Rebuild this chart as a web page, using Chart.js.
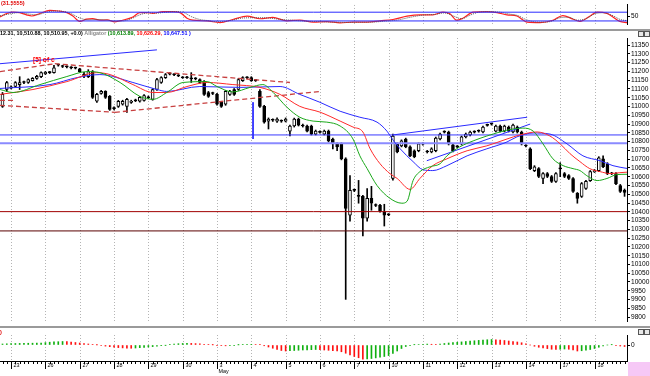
<!DOCTYPE html>
<html><head><meta charset="utf-8">
<script src="https://cdn.jsdelivr.net/npm/chart.js@4.4.1/dist/chart.umd.min.js"></script>
<style>
html,body{margin:0;padding:0;background:#fff;width:650px;height:376px;overflow:hidden;}
.p{position:absolute;left:0;width:650px;}
canvas{display:block;}
.sep{position:absolute;left:0;width:650px;height:2px;background:#9a9a9a;}
.pink{position:absolute;left:628px;top:362px;width:22px;height:14px;background:#f6c8f6;}
.ic{position:absolute;width:4px;height:4px;border:1px solid #555;background:#e8e8e8;}
</style></head><body>
<div class="p" style="top:0;height:29px"><canvas id="c1" width="650" height="29"></canvas></div>
<div class="sep" style="top:29px"></div>
<div class="p" style="top:30px;height:296px"><canvas id="c2" width="650" height="296"></canvas></div>
<div class="sep" style="top:326px"></div>
<div class="p" style="top:326px;height:50px"><canvas id="c3" width="650" height="50"></canvas></div>
<div class="pink"></div>
<div class="ic" style="left:638px;top:31px"></div><div class="ic" style="left:644px;top:31px"></div>
<div class="ic" style="left:638px;top:329px"></div><div class="ic" style="left:644px;top:329px"></div>
<script>
// ---------- DATA ----------
const dayLabels = ['23','26','27','28','29','30','3','4','5','6','7','10','11','12','13','14','17','18'];
const priceTicks = [9800,9850,9900,9950,10000,10050,10100,10150,10200,10250,10300,10350,10400,10450,10500,10550,10600,10650,10700,10750,10800,10850,10900,10950,11000,11050,11100,11150,11200,11250,11300,11350];

const open  = [11001,11097,11105,11115,11125,11137,11137,11148,11160,11170,11187,11193,11193,11236,11228,11226,11220,11219,11215,11185,11170,11199,11030,11075,11086,11058,10988,11001,11013,11001,11024,11033,11030,11035,11050,11041,11097,11137,11165,11185,11181,11175,11164,11164,11158,11158,11154,11143,11080,11074,11069,11024,11013,11069,11097,11097,11148,11164,11165,11150,11086,11001,10917,10922,10917,10916,10917,10860,10889,10928,10892,10889,10889,10843,10853,10843,10860,10815,10787,10787,10702,10381,10522,10490,10488,10364,10477,10438,10437,10398,10385,10590,10787,10776,10815,10770,10748,10748,10786,10741,10742,10748,10815,10854,10855,10781,10770,10787,10827,10838,10854,10859,10855,10893,10899,10860,10889,10860,10883,10855,10883,10855,10775,10759,10635,10646,10590,10618,10601,10573,10645,10618,10607,10590,10505,10488,10533,10578,10629,10635,10702,10674,10617,10618,10550,10522];
const high  = [11080,11143,11118,11142,11170,11145,11158,11165,11178,11198,11200,11200,11235,11242,11235,11232,11227,11225,11218,11195,11210,11205,11075,11092,11090,11063,10998,11035,11036,11047,11036,11042,11058,11068,11060,11102,11160,11170,11188,11193,11188,11182,11171,11172,11193,11165,11158,11148,11086,11082,11075,11030,11092,11092,11102,11160,11170,11171,11170,11155,11097,11007,10935,10930,10935,10924,10935,10894,10934,10934,10900,10894,10894,10866,10862,10866,10866,10820,10793,10793,10708,10607,10530,10579,10494,10533,10545,10445,10442,10443,10390,10843,10793,10810,10820,10776,10753,10793,10793,10750,10765,10826,10849,10862,10860,10786,10778,10832,10849,10860,10862,10867,10889,10900,10906,10894,10894,10894,10889,10900,10889,10860,10783,10765,10663,10652,10624,10624,10607,10624,10680,10624,10612,10595,10510,10567,10579,10635,10641,10714,10719,10680,10625,10624,10556,10530];
const low   = [10995,11086,11100,11110,11097,11130,11132,11145,11155,11165,11182,11188,11190,11230,11222,11220,11215,11214,11195,11165,11165,11046,11024,11070,11046,10978,10980,10995,11008,10967,11018,11028,11025,11030,11045,11036,11092,11132,11160,11180,11176,11170,11160,11160,11137,11152,11132,11063,11052,11068,11007,10995,11007,11063,11063,11092,11143,11159,11143,11143,10995,10905,10872,10915,10910,10910,10912,10832,10883,10889,10883,10855,10838,10838,10848,10838,10798,10759,10748,10696,9901,10347,10515,10449,10262,10347,10409,10430,10398,10319,10378,10580,10736,10770,10765,10714,10708,10742,10780,10735,10736,10742,10810,10849,10781,10742,10765,10781,10821,10832,10849,10854,10849,10888,10894,10855,10855,10855,10855,10849,10849,10781,10770,10640,10629,10595,10561,10595,10567,10567,10600,10595,10584,10510,10449,10482,10527,10573,10624,10629,10651,10612,10612,10555,10510,10488];
const close = [11069,11137,11112,11137,11137,11139,11154,11160,11172,11193,11195,11195,11221,11238,11230,11228,11222,11221,11199,11175,11199,11052,11069,11086,11052,10984,10992,11030,11030,11041,11030,11036,11052,11063,11053,11097,11154,11165,11182,11187,11183,11177,11166,11166,11160,11160,11137,11069,11058,11076,11013,11001,11086,11086,11069,11154,11165,11166,11148,11148,11001,10911,10928,10924,10928,10918,10928,10889,10928,10894,10889,10860,10843,10860,10855,10860,10804,10787,10770,10702,10420,10522,10524,10488,10364,10477,10449,10436,10404,10381,10383,10832,10742,10804,10770,10719,10714,10787,10788,10743,10759,10820,10843,10856,10787,10748,10772,10827,10843,10855,10856,10861,10883,10895,10901,10889,10860,10889,10860,10894,10855,10787,10777,10646,10657,10601,10618,10601,10573,10618,10647,10601,10590,10516,10477,10561,10573,10629,10635,10708,10657,10618,10619,10561,10516,10511];

// Alligator samples (bar index, price)
const lipsIdx  = [-0.58,2.45,8.74,15,19.7,22.7,27.4,32,35.1,38.3,42.1,47.7,50,53.7,57.7,60.7,63.1,66.3,69.3,72.4,75.6,78.7,81.7,83.3,85,87.3,90.3,93.1,94.3,95.7,97.3,99.7,102,103.6,106.6,109.7,112.9,116,119,121.3,123.7,126,128.3,130.7,133,134.6,136.2,138.6,140.9,143.2,145.6];
const lipsVal  = [11097,11080,11125,11171,11199,11193,11137,11058,11041,11080,11137,11142,11114,11083,11109,11125,11080,10996,10939,10917,10911,10889,10815,10719,10646,10550,10477,10449,10460,10578,10629,10657,10674,10719,10770,10804,10832,10855,10872,10877,10860,10787,10702,10663,10646,10635,10606,10578,10590,10612,10614];
const teethIdx = [-0.58,7.1,15,22,25.1,30.4,35.1,38.3,43,47.7,53.7,60,64.7,69.3,74,78.7,81.7,84,85.7,88,90.3,92,95,97.3,100.3,103.6,108.3,112.9,117.6,120.6,124.6,127.6,130,132.3,134.6,136.9,139.3,141.6,143.9,145.6];
const teethVal = [11069,11097,11142,11193,11182,11125,11080,11080,11114,11137,11125,11109,11069,11001,10968,10917,10883,10855,10759,10674,10618,10590,10528,10590,10663,10702,10748,10776,10815,10838,10855,10832,10787,10731,10686,10646,10629,10618,10623,10626];
const jawIdx   = [-0.58,11.07,17.4,22.7,30.4,36,38.3,46,55.4,64.7,69.3,74,78.7,83.3,87.3,89.6,91,92.7,95.7,98,100.3,103.6,108.3,112.9,117.6,119.9,123.7,127.6,131.6,135.3,139.3,142.3,145.6];
const jawVal   = [11103,11125,11165,11182,11137,11097,11086,11114,11109,11114,11069,11024,10973,10939,10911,10860,10810,10759,10686,10640,10635,10663,10719,10759,10798,10827,10849,10843,10787,10719,10691,10663,10647];

// Stochastic samples (bar index, value)
const stochIdx = [-0.58,1,2.5,4,5.6,6.8,8.7,11,13,15,16.4,18,19.6,21,22.7,24.4,26.2,28,30.4,32,33.7,35,37.4,39.7,41.4,43,44.4,47.7,50.7,53.7,57,60,63,66.3,69.3,72.4,75.6,78.7,81.7,85,88,91,94.3,97.3,100.3,102.7,104.3,105.9,107.3,109.7,112.9,115.3,117.6,119.9,122.3,125.3,128.3,130.6,133,134.6,137,138.6,140.9,142.3,143.9,145.6];
const stochVal = [48,71,81,77,62,54,71,92,88,77,54,17,32,36,25,27,14,25,47,77,77,72,84,84,77,39,25,20,9,30,53,35,44,21,26,12,16,7,12,12,21,30,53,62,62,81,70,25,39,80,84,77,62,54,12,9,25,57,32,17,54,81,72,47,17,9];
const signalIdx = [-0.58,2,4,6,8,10,12,14,16,18,20,22,24,26,28,30,32,34,36,38,40,42,44,46,48,50,53,56,59,62,65,68,71,74,77,80,83,86,89,92,95,98,101,103,105,107,109,111,113,116,118,120,122,124,126,128,130,132,134,136,138,140,142,144,145.6];
const signalVal = [55,70,78,68,62,78,88,86,70,40,28,30,27,20,20,35,62,76,74,80,84,80,50,30,22,15,22,40,42,40,30,24,18,15,12,10,11,12,18,26,45,60,66,75,55,35,60,80,84,80,68,58,30,14,12,18,42,45,25,35,68,76,60,30,22];

// Awesome oscillator per bar
const ao = [20,24,28,30,32,34,35,36,38,40,48,56,62,66,70,66,58,50,40,30,20,12,4,-10,-22,-34,-44,-52,-58,-62,-65,-60,-54,-48,-40,-32,-24,-14,-4,8,18,26,31,34,32,28,22,15,8,2,-6,-12,-16,-13,-8,2,8,12,14,11,5,-15,-40,-65,-90,-110,-120,-115,-110,-105,-100,-96,-93,-90,-95,-100,-106,-112,-120,-135,-165,-200,-230,-255,-285,-280,-270,-258,-245,-230,-212,-170,-120,-70,-30,-5,5,10,14,18,15,12,20,30,40,48,55,62,70,78,85,92,100,105,110,105,98,90,80,70,60,45,25,0,-25,-45,-60,-72,-85,-90,-85,-80,-85,-100,-120,-115,-105,-90,-70,-45,-20,0,5,-5,-20,-30];

// Drawn objects (bar index / price)
const hLinesBlue = [10838, 10790];
const hLinesRed  = [10401, 10291];
const blueVert   = {i:58.4, from:11024, to:10815};
const trendBlue  = [[-0.58,11244,36,11323],[91,10838,122.3,10939],[98.9,10691,123,10900]];
const trendRed   = [[-0.58,11199,12.2,11244],[12.2,11244,67,11137],[-0.58,11035,3,11035],[-0.58,11007,26.2,10967],[26.2,10967,74,11086]];
const waveLabel  = {text:'[5] of c', i:7.1, p:11262};

// ---------- LAYOUT ----------
const XMIN = -0.583, XMAX = 145.57;
const N = open.length;
const FONT = '"Liberation Sans", Arial, sans-serif';

const daySep = {
  id:'daySep',
  beforeDatasetsDraw(ch){
    const {ctx, chartArea:a, scales:{x}} = ch;
    ctx.save(); ctx.strokeStyle='#b4b4b4'; ctx.lineWidth=1; ctx.setLineDash([1,2]);
    dayLabels.forEach((d,k)=>{
      const px = Math.round(x.getPixelForValue(2+8*k))+0.5;
      ctx.beginPath(); ctx.moveTo(px,a.top); ctx.lineTo(px,a.bottom); ctx.stroke();
    });
    ctx.restore();
  }
};
const rightAxis = (min,max,ticks,fmt)=>({
  position:'right', min, max,
  afterBuildTicks: s=>{ s.ticks = ticks.map(v=>({value:v})); },
  afterFit: s=>{ s.width = 23; },
  ticks:{font:{size:6.6, family:FONT}, color:'#000', padding:1, autoSkip:false, maxRotation:0, callback:fmt||(v=>String(v))},
  grid:{drawOnChartArea:false, drawTicks:true, tickLength:3, color:'#000'},
  border:{color:'#000', width:1}
});
const xAxis = {type:'linear', min:XMIN, max:XMAX, display:false, offset:false};
const base = {responsive:false, animation:false, devicePixelRatio:1, events:[],
  plugins:{legend:{display:false}, tooltip:{enabled:false}}};

const pts = (xs,ys)=>xs.map((x,k)=>({x, y:ys[k]}));
const smooth = (data,color,w,dash)=>({type:'line', data, borderColor:color, borderWidth:w||1, borderDash:dash||[], pointRadius:0, fill:false, cubicInterpolationMode:'monotone'});
const straight = (data,color,w,dash)=>({type:'line', data, borderColor:color, borderWidth:w||1, borderDash:dash||[], pointRadius:0, fill:false, tension:0});

// ---------- STOCHASTIC ----------
new Chart(document.getElementById('c1'), {
  type:'line',
  data:{datasets:[
    straight([{x:XMIN,y:80},{x:XMAX,y:80}],'#2a2aff',1),
    straight([{x:XMIN,y:20},{x:XMAX,y:20}],'#2a2aff',1),
    smooth(pts(signalIdx,signalVal),'#555',1,[1,1]),
    smooth(pts(stochIdx,stochVal),'#ff2020',1.2)
  ]},
  options:{...base, layout:{padding:0},
    scales:{x:xAxis, y:rightAxis(-1.2,129.6,[50])}},
  plugins:[daySep,{id:'lbl',afterDraw(ch){const c=ch.ctx;c.save();c.font='bold 5.5px '+FONT;c.fillStyle='#e00000';c.textBaseline='middle';c.fillText('(31.5555)',1,3);c.restore();}}]
});

// ---------- MAIN ----------
const body = [], wick = [], bodyCol = [];
for (let i=0;i<N;i++){
  body.push({x:i, y:[open[i], close[i]]});
  wick.push({x:i, y:[low[i], high[i]]});
  bodyCol.push(close[i]-open[i] > 5 ? '#ffffff' : '#000000');
}
const mainSets = [];
mainSets.push(smooth(pts(lipsIdx,lipsVal),'#1aa81a',1));
mainSets.push(smooth(pts(teethIdx,teethVal),'#ff2a2a',1));
mainSets.push(smooth(pts(jawIdx,jawVal),'#2a2aff',1));
trendBlue.forEach(t=>mainSets.push(straight([{x:t[0],y:t[1]},{x:t[2],y:t[3]}],'#2a2aff',1)));
trendRed.forEach(t=>mainSets.push(straight([{x:t[0],y:t[1]},{x:t[2],y:t[3]}],'#c84040',1.3,[5,3])));
mainSets.push(straight([{x:blueVert.i,y:blueVert.from},{x:blueVert.i,y:blueVert.to}],'#2a2aff',1));
mainSets.push(straight([{x:XMIN,y:hLinesBlue[0]},{x:XMAX,y:hLinesBlue[0]}],'#3a3aff',1));
mainSets.push(straight([{x:XMIN,y:hLinesBlue[1]},{x:XMAX,y:hLinesBlue[1]}],'#8a8aff',2));
mainSets.push(straight([{x:XMIN,y:hLinesRed[0]},{x:XMAX,y:hLinesRed[0]}],'#a00000',1));
mainSets.push(straight([{x:XMIN,y:hLinesRed[1]},{x:XMAX,y:hLinesRed[1]}],'#5a0000',1));
mainSets.push({type:'bar', data:body, backgroundColor:bodyCol, borderColor:'#000', borderWidth:1, borderSkipped:false, barThickness:3, minBarLength:1, grouped:false});
mainSets.push({type:'bar', data:wick, backgroundColor:'#000', borderWidth:0, barThickness:1, grouped:false});

const header = {id:'hdr', afterDraw(ch){
  const c=ch.ctx; c.save(); c.font='bold 5.4px '+FONT; c.textBaseline='middle';
  let x=0; const y=4;
  const parts=[['12.31, 10,510.88, 10,510.95, +0.0)','#000'],[' Alligator ','#888'],['(10,613.89, ','#008000'],['10,626.29, ','#ff0000'],['10,647.51 )','#0000ff']];
  parts.forEach(([t,col])=>{c.fillStyle=col;c.fillText(t,x,y);x+=c.measureText(t).width;});
  const sx=ch.scales.x, sy=ch.scales.y;
  c.font='bold 6.6px '+FONT; c.fillStyle='#ff0000'; c.textBaseline='middle';
  c.fillText(waveLabel.text, sx.getPixelForValue(waveLabel.i), sy.getPixelForValue(waveLabel.p));
  c.restore();
}};
new Chart(document.getElementById('c2'), {
  type:'bar',
  data:{datasets:mainSets},
  options:{...base, layout:{padding:{top:8,bottom:2,left:0,right:0}},
    scales:{x:xAxis, y:rightAxis(9777.5,11390.5,priceTicks)}},
  plugins:[daySep, header]
});

// ---------- AO ----------
const aoCol = ao.map((v,i)=> i>0 && v < ao[i-1] ? '#ff1010' : '#10b010');
const xLabels = {id:'xl', afterDraw(ch){
  const c=ch.ctx, a=ch.chartArea, sx=ch.scales.x;
  c.save();
  c.strokeStyle='#000'; c.lineWidth=1;
  c.beginPath(); c.moveTo(0,a.bottom+0.5); c.lineTo(a.right,a.bottom+0.5); c.stroke();
  for(let i=0;i<N;i++){ const px=Math.round(sx.getPixelForValue(i))+0.5; c.beginPath(); c.moveTo(px,a.bottom); c.lineTo(px,a.bottom+3); c.stroke(); }
  c.font='5.4px '+FONT; c.fillStyle='#000'; c.textBaseline='middle';
  dayLabels.forEach((d,k)=>{
    const px=Math.round(sx.getPixelForValue(2+8*k))+0.5;
    c.beginPath(); c.moveTo(px,a.bottom); c.lineTo(px,a.bottom+8); c.stroke();
    c.fillText(d, px+2, a.bottom+5);
    if(d==='3'){ c.fillText('May', px+1, a.bottom+11); }
  });
  c.font='bold 5.5px '+FONT; c.fillStyle='#e00000'; c.fillText(')',0,6);
  c.restore();
}};
new Chart(document.getElementById('c3'), {
  type:'bar',
  data:{datasets:[{data:ao.map((v,i)=>({x:i,y:v})), backgroundColor:aoCol, borderWidth:0, barThickness:1}]},
  options:{...base, layout:{padding:{top:9,bottom:15,left:0,right:0}},
    scales:{x:xAxis, y:rightAxis(-320,200,[0])}},
  plugins:[daySep, xLabels]
});
</script>
</body></html>
